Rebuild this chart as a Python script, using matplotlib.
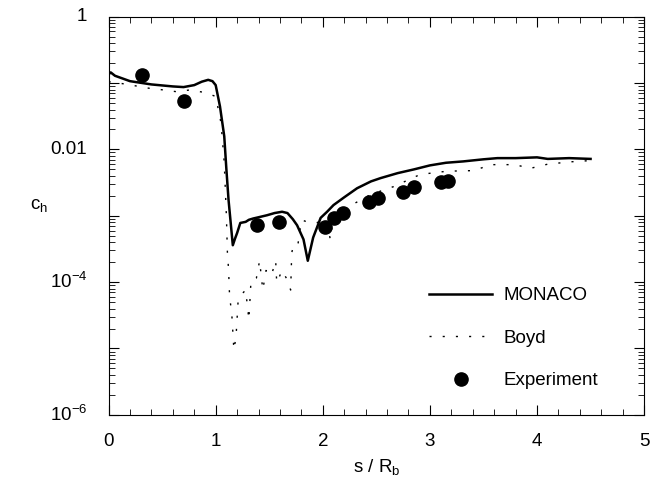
import matplotlib
matplotlib.use("Agg")
import matplotlib.pyplot as plt
from matplotlib.ticker import LogLocator, MultipleLocator, NullFormatter

plt.rcParams['font.family'] = ['Liberation Sans', 'DejaVu Sans']
plt.rcParams['mathtext.default'] = 'regular'

# MONACO (solid line)
monaco_s = [0.0, 0.02, 0.06, 0.2, 0.4, 0.6, 0.7, 0.8, 0.87, 0.93, 0.97, 1.0,
            1.04, 1.08, 1.1, 1.12, 1.14, 1.16, 1.18, 1.2, 1.23, 1.28, 1.31,
            1.35, 1.4, 1.48, 1.55, 1.62, 1.67, 1.72, 1.76, 1.82, 1.86, 1.91,
            1.98, 2.04, 2.1, 2.2, 2.32, 2.45, 2.54, 2.7, 2.85, 3.0, 3.15,
            3.31, 3.5, 3.63, 3.8, 4.0, 4.1, 4.3, 4.5]
monaco_ch = [0.135, 0.145, 0.129, 0.107, 0.0955, 0.0891, 0.0871, 0.0933, 0.105,
             0.112, 0.107, 0.0933, 0.0447, 0.0158, 5.0e-3, 1.74e-3, 7.9e-4,
             3.6e-4, 4.5e-4, 5.5e-4, 7.8e-4, 8.1e-4, 8.7e-4, 9.1e-4, 9.5e-4,
             1.02e-3, 1.10e-3, 1.15e-3, 1.10e-3, 8.9e-4, 7.2e-4, 4.4e-4,
             2.1e-4, 4.7e-4, 9.3e-4, 1.15e-3, 1.45e-3, 1.9e-3, 2.6e-3, 3.3e-3,
             3.7e-3, 4.4e-3, 5.0e-3, 5.75e-3, 6.3e-3, 6.6e-3, 7.1e-3, 7.4e-3,
             7.4e-3, 7.6e-3, 7.2e-3, 7.4e-3, 7.2e-3]

# Boyd (dotted line)
boyd_s = [0.0, 0.1, 0.25, 0.39, 0.51, 0.64, 0.76, 0.9, 1.0, 1.05, 1.08, 1.1,
          1.11, 1.12, 1.13, 1.15, 1.17, 1.19, 1.21, 1.24, 1.28, 1.31, 1.33,
          1.38, 1.41, 1.44, 1.47, 1.52, 1.56, 1.57, 1.62, 1.67, 1.70, 1.71,
          1.73, 1.77, 1.8, 1.87, 1.95, 2.0, 2.04, 2.07, 2.1, 2.2, 2.3, 2.45,
          2.66, 2.91, 3.16, 3.41, 3.57, 3.79, 3.94, 4.1, 4.31, 4.5]
boyd_ch = [0.105, 0.1, 0.091, 0.083, 0.079, 0.074, 0.079, 0.072, 0.063, 0.025,
           6.3e-3, 1.0e-3, 2.6e-4, 1.6e-4, 6.0e-5, 3.4e-5, 9.5e-6, 1.5e-5,
           5.4e-5, 6.5e-5, 7.6e-5, 2.7e-5, 1.07e-4, 1.15e-4, 2.1e-4, 7.6e-5,
           1.5e-4, 1.26e-4, 2.1e-4, 9.8e-5, 1.5e-4, 1.07e-4, 7.6e-5, 2.75e-4,
           3.9e-4, 3.9e-4, 8.7e-4, 7.9e-4, 7.9e-4, 8.9e-4, 7.9e-4, 4.4e-4,
           1.0e-3, 1.26e-3, 1.55e-3, 2.1e-3, 2.75e-3, 4.2e-3, 4.7e-3, 4.8e-3,
           5.9e-3, 5.9e-3, 5.2e-3, 6.0e-3, 6.5e-3, 6.8e-3]

# Experiment (filled circles)
exp_s = [0.31, 0.70, 1.39, 1.59, 2.02, 2.10, 2.19, 2.43, 2.52, 2.75, 2.85, 3.10, 3.17]
exp_ch = [0.133, 0.054, 7.2e-4, 8.1e-4, 6.8e-4, 9.3e-4, 1.1e-3, 1.6e-3, 1.86e-3,
          2.3e-3, 2.75e-3, 3.2e-3, 3.4e-3]

ytick_vals = [1e-6, 1e-4, 1e-2, 1]
ytick_labels = ['10$^{-6}$', '10$^{-4}$', '0.01', '1']

fig = plt.figure(figsize=(6.62, 4.79), dpi=100)
ax = fig.add_axes([0.164, 0.134, 0.809, 0.831])

ax.plot(monaco_s, monaco_ch, color='black', lw=1.8, label='MONACO')
ax.plot(boyd_s, boyd_ch, color='black', lw=1.0, linestyle=(0, (1.5, 8)), label='Boyd')
ax.plot(exp_s, exp_ch, 'o', color='black', markersize=9.5, label='Experiment')

ax.set_yscale('log')
ax.set_xlim(0, 5)
ax.set_ylim(1e-6, 1)

# decade ticks everywhere, labels only every second decade
ax.yaxis.set_major_locator(LogLocator(base=10, numticks=20))
ax.yaxis.set_minor_locator(LogLocator(base=10, subs=range(2, 10), numticks=20))
ax.yaxis.set_minor_formatter(NullFormatter())
ax.yaxis.set_major_formatter(NullFormatter())
for v, lab in zip(ytick_vals, ytick_labels):
    ax.text(-0.04, v, lab, transform=ax.get_yaxis_transform(), ha='right', va='center', fontsize=13.5)

ax.xaxis.set_major_locator(MultipleLocator(1))
ax.xaxis.set_minor_locator(MultipleLocator(0.2))
ax.tick_params(which='both', direction='in', top=True, right=True, labelsize=13.5)
ax.tick_params(which='major', length=7, width=0.8)
ax.tick_params(which='minor', length=4, width=0.6)
ax.tick_params(axis='x', pad=13)

ax.set_xlabel('s / R$_b$', fontsize=13.5, labelpad=5)
ax.set_ylabel('c$_h$', fontsize=13.5, rotation=0)
ax.yaxis.set_label_coords(-0.13, 0.505)

ax.legend(loc='lower right', bbox_to_anchor=(0.946, 0.022), frameon=False, fontsize=13.5,
          handlelength=3.4, labelspacing=1.35, handletextpad=0.6)

fig.savefig('out.png', dpi=100)
